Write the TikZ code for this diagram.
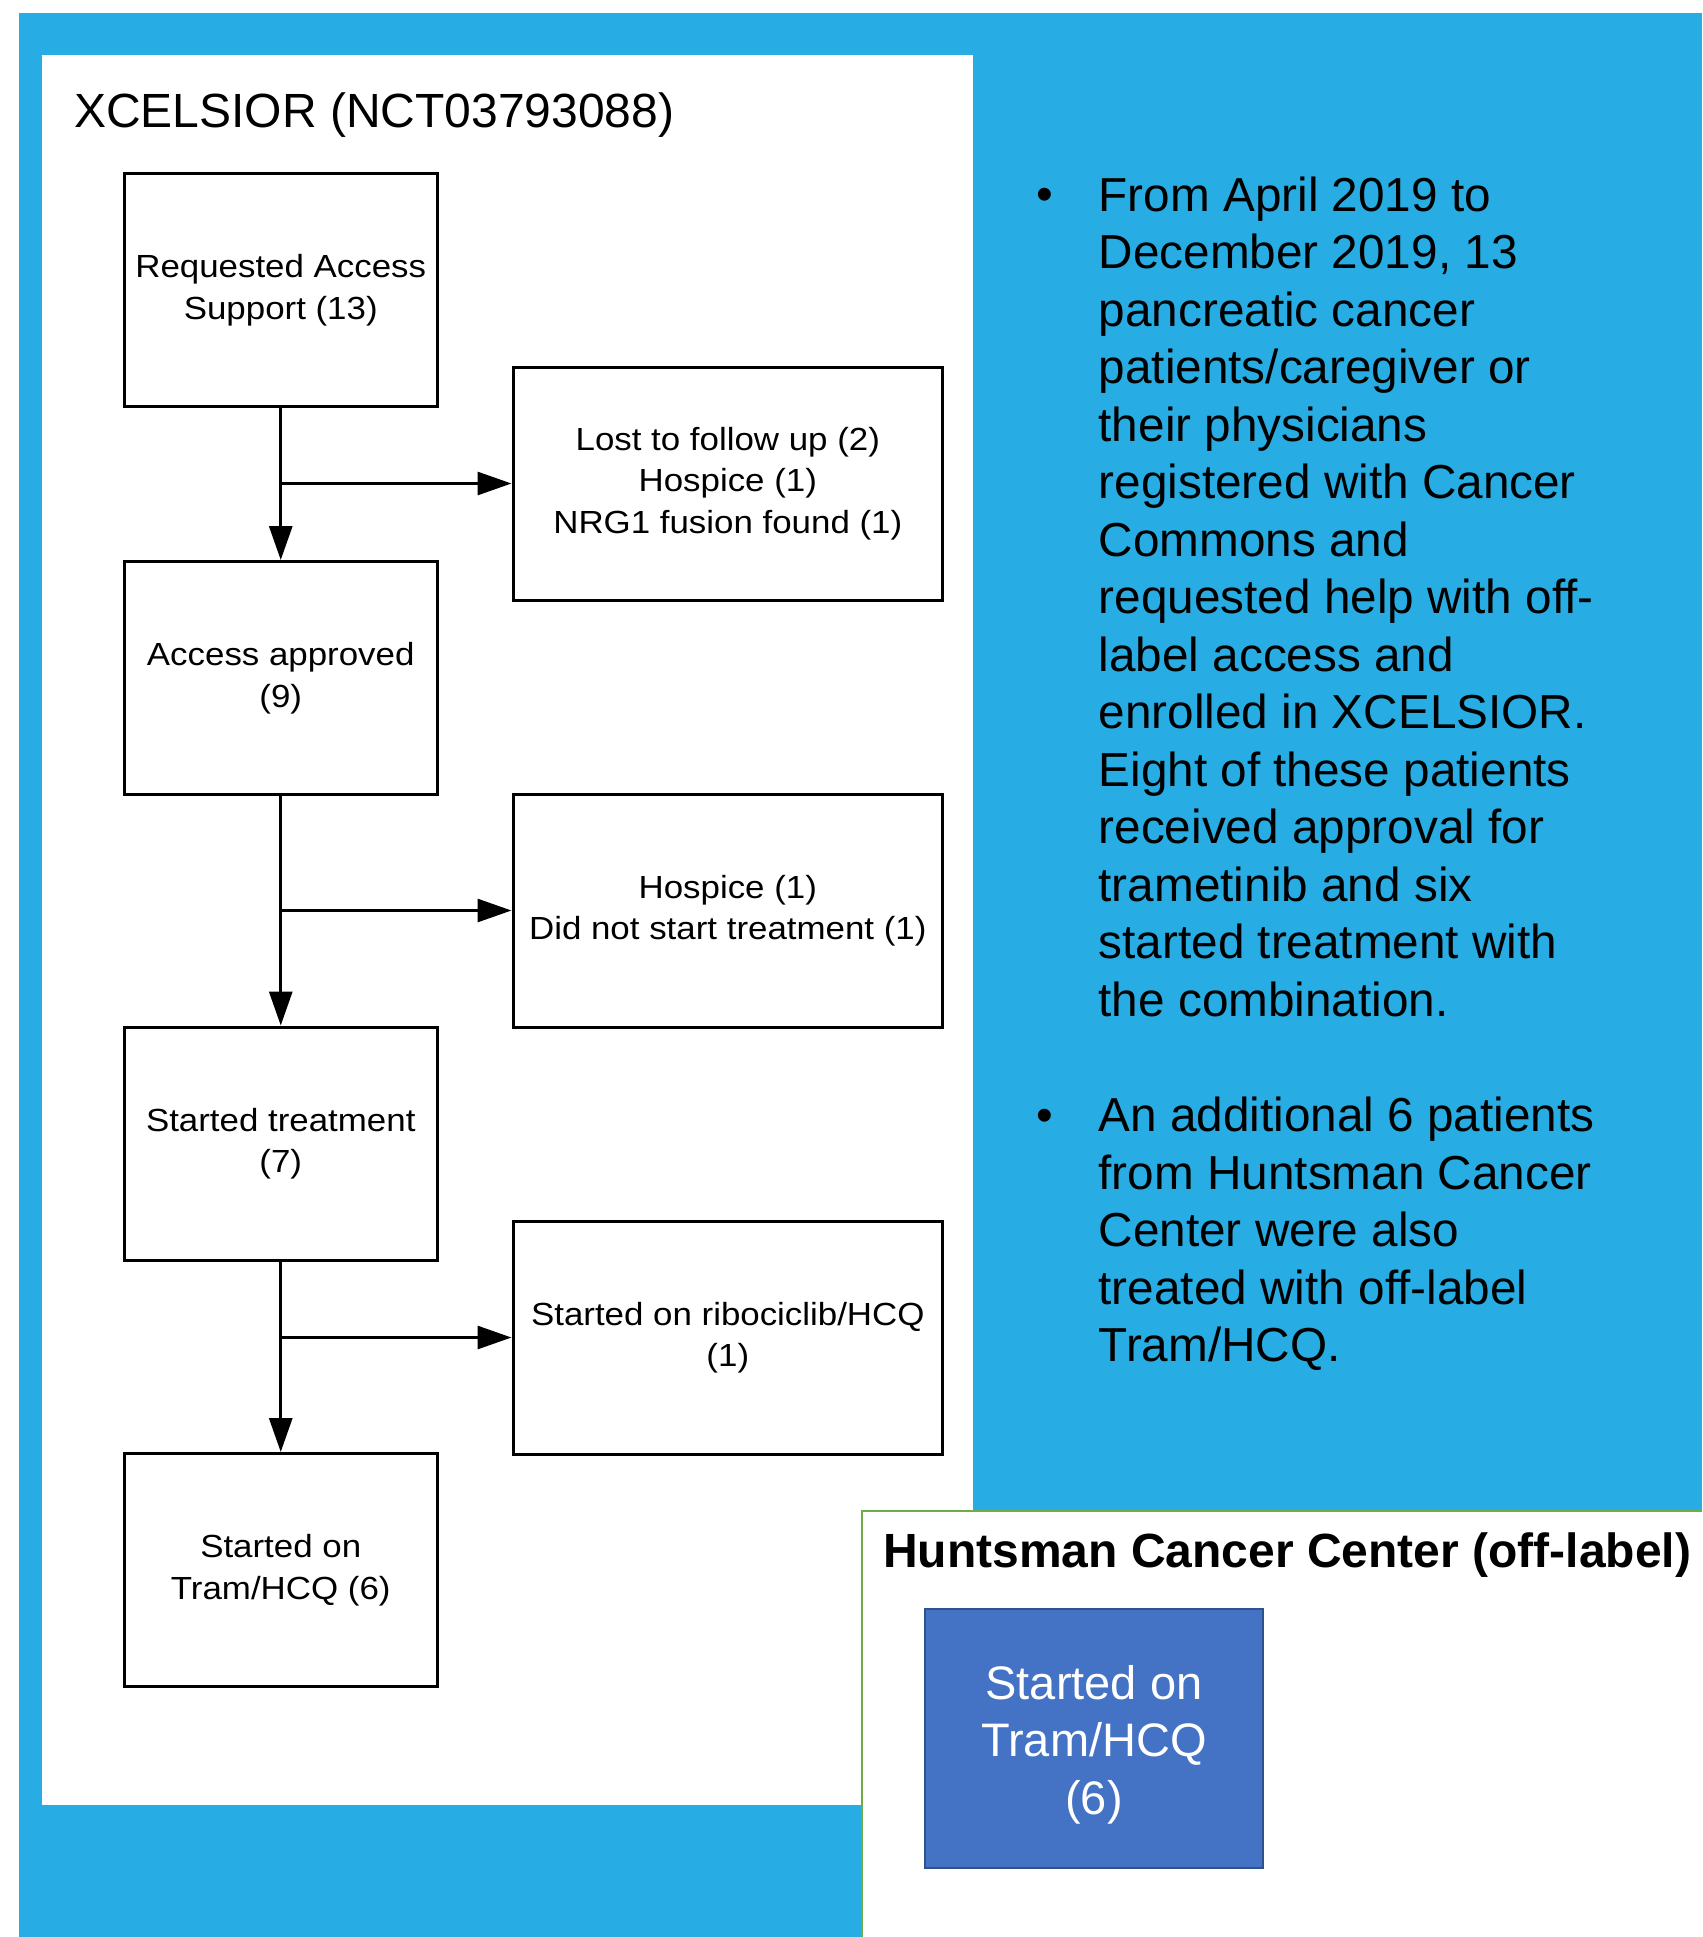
\documentclass[tikz,border=0pt]{standalone}
\usepackage{fontspec}
\setmainfont{Liberation Sans}
\newfontfamily\fcfont[FakeStretch=1.09]{Liberation Sans}
\usetikzlibrary{arrows.meta}
\definecolor{bgblue}{RGB}{39,173,227}
\definecolor{boxblue}{RGB}{68,114,196}
\definecolor{boxedge}{RGB}{47,82,143}
\definecolor{hgreen}{RGB}{112,173,71}
\begin{document}
\begin{tikzpicture}[x=1pt,y=-1pt,
  fcbox/.style={draw=black, line width=3pt, fill=white, inner sep=0pt, align=center,
    font=\fcfont\fontsize{32}{41.5}\selectfont},
  leftbox/.style={fcbox, minimum width=313.5pt, minimum height=233pt},
  rightbox/.style={fcbox, minimum width=429.6pt, minimum height=233pt},
  flow/.style={line width=3pt, -{Triangle[length=34pt,width=23pt]}},
  bigtext/.style={anchor=base west, inner sep=0pt, align=left,
    font=\fontsize{47.7}{57.5}\selectfont},
  bulletmark/.style={anchor=base, inner sep=0pt, font=\fontsize{47.7}{57.5}\selectfont},
]
\useasboundingbox (0,0) rectangle (1702,1937);
\fill[bgblue] (19,12.7) rectangle (1702,1937);
\fill[white] (42,55) rectangle (973,1805);

% title
\node[bigtext, font=\fontsize{48}{57.5}\selectfont] (title) at (74,128) {XCELSIOR (NCT03793088)};

% flowchart boxes
\node[leftbox] (b1) at (280.75,290) {Requested Access\\Support (13)};
\node[leftbox] (b3) at (280.75,678) {Access approved\\(9)};
\node[leftbox] (b5) at (280.75,1143.5) {Started treatment\\(7)};
\node[leftbox] (b7) at (280.75,1570) {Started on\\Tram/HCQ (6)};
\node[rightbox] (b2) at (727.8,483.5) {Lost to follow up (2)\\Hospice (1)\\NRG1 fusion found (1)};
\node[rightbox] (b4) at (727.8,910.5) {Hospice (1)\\Did not start treatment (1)};
\node[rightbox] (b6) at (727.8,1337.5) {Started on ribociclib/HCQ\\(1)};

% connectors
\draw[flow] (b1.south) -- (b3.north);
\draw[flow] (b3.south) -- (b5.north);
\draw[flow] (b5.south) -- (b7.north);
\coordinate (j1) at (b1.south |- b2.west);
\coordinate (j2) at (b3.south |- b4.west);
\coordinate (j3) at (b5.south |- b6.west);
\draw[flow] (j1) -- (b2.west);
\draw[flow] (j2) -- (b4.west);
\draw[flow] (j3) -- (b6.west);

% bullet text (base anchor = baseline of last line)
\node[bulletmark] (m1) at (1045,211) {•};
\node[bigtext] (p1) at (1098.5,1016) {From April 2019 to\\December 2019, 13\\pancreatic cancer\\patients/caregiver or\\their physicians\\registered with Cancer\\Commons and\\requested help with off-\\label access and\\enrolled in XCELSIOR.\\Eight of these patients\\received approval for\\trametinib and six\\started treatment with\\the combination.};
\node[bulletmark] (m2) at (1045,1131.7) {•};
\node[bigtext] (p2) at (1098.5,1361.7) {An additional 6 patients\\from Huntsman Cancer\\Center were also\\treated with off-label\\Tram/HCQ.};

% Huntsman panel
\begin{scope}
\clip (0,0) rectangle (1702,1937);
\draw[hgreen, line width=2.5pt, fill=white] (862,1511) rectangle (1730,1960);
\end{scope}
\node[bigtext, font=\bfseries\fontsize{48}{57.5}\selectfont] (htitle) at (883,1567) {Huntsman Cancer Center (off-label)};
\node[draw=boxedge, line width=2pt, fill=boxblue, inner sep=0pt,
  minimum width=338pt, minimum height=259pt] (hbox) at (1094,1738.5) {};
\node[text=white, inner sep=0pt, align=center, font=\fontsize{47}{57.5}\selectfont]
  (htext) at (1094,1744.5) {Started on\\Tram/HCQ\\(6)};
\end{tikzpicture}
\end{document}
